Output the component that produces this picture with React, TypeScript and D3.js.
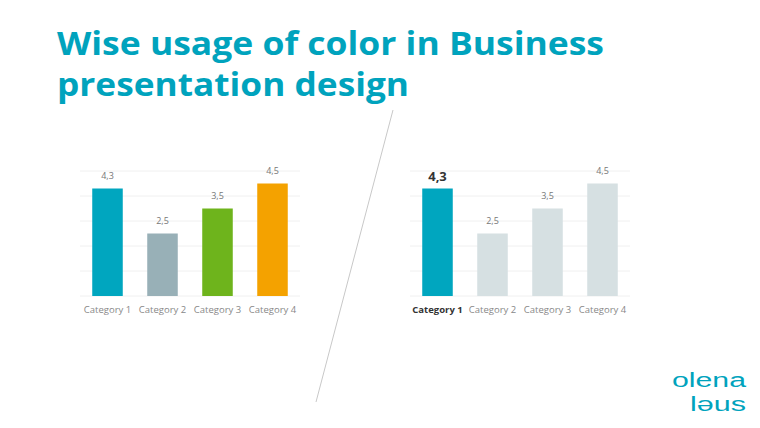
import React from 'react';
import * as d3 from 'd3';

const categories = ['Category 1', 'Category 2', 'Category 3', 'Category 4'];
const values = [4.3, 2.5, 3.5, 4.5];
const yTicks = [0, 1, 2, 3, 4, 5];
const colorfulFills = ['#00a6bf', '#98b0b7', '#6eb41c', '#f4a200'];
const focusFills = ['#00a6bf', '#d6e0e2', '#d6e0e2', '#d6e0e2'];

const fmt = (v: number) => d3.format('.1f')(v).replace('.', ',');

interface BarChartProps {
  x0: number;
  fills: string[];
  highlight?: number;
}

const BarChart: React.FC<BarChartProps> = ({ x0, fills, highlight }) => {
  const x = d3.scaleBand<string>().domain(categories).range([x0, x0 + 220]).paddingInner(0.445).paddingOuter(0.2225);
  const y = d3.scaleLinear().domain([0, 5]).range([296, 171]);

  return (
    <g>
      {yTicks.map(t => (
        <line key={t} x1={x0} x2={x0 + 220} y1={y(t)} y2={y(t)} stroke="#f0f0f0" strokeWidth={1} />
      ))}
      {categories.map((c, i) => {
        const bx = x(c) as number;
        const hl = highlight === i;
        return (
          <g key={c}>
            <rect x={bx} y={y(values[i])} width={x.bandwidth()} height={y(0) - y(values[i])} fill={fills[i]} />
            <text
              x={bx + x.bandwidth() / 2}
              y={y(values[i]) - (hl ? 8 : 10)}
              textAnchor="middle"
              fontSize={hl ? 13 : 9}
              fontWeight={hl ? 700 : 400}
              fill={hl ? '#333' : '#777'}
            >
              {fmt(values[i])}
            </text>
            <text
              x={bx + x.bandwidth() / 2}
              y={313}
              textAnchor="middle"
              fontSize={9.5}
              fontWeight={hl ? 700 : 400}
              fill={hl ? '#333' : '#888'}
            >
              {c}
            </text>
          </g>
        );
      })}
    </g>
  );
};

export default function App() {
  return (
    <svg width={760} height={428} style={{ display: 'block', position: 'absolute', left: 0, top: 0 }} fontFamily="Open Sans, sans-serif">
      <rect width={760} height={428} fill="#fff" />
      <g fill="#00a3bd" fontWeight={700} fontSize={32}>
        <text x={57} y={55} textLength={547} lengthAdjust="spacingAndGlyphs">Wise usage of color in Business</text>
        <text x={57} y={96} textLength={352} lengthAdjust="spacingAndGlyphs">presentation design</text>
      </g>
      <line x1={393} y1={110} x2={316} y2={402} stroke="#c8c8c8" strokeWidth={1} />
      <BarChart x0={80} fills={colorfulFills} />
      <BarChart x0={410} fills={focusFills} highlight={0} />
      <g fill="#00a3bd" fontSize={20} fontFamily="Liberation Sans, sans-serif" textAnchor="end">
        <text x={746} y={387} textLength={74} lengthAdjust="spacingAndGlyphs">olena</text>
        <text x={746} y={411} textLength={56} lengthAdjust="spacingAndGlyphs">ləus</text>
      </g>
    </svg>
  );
}
